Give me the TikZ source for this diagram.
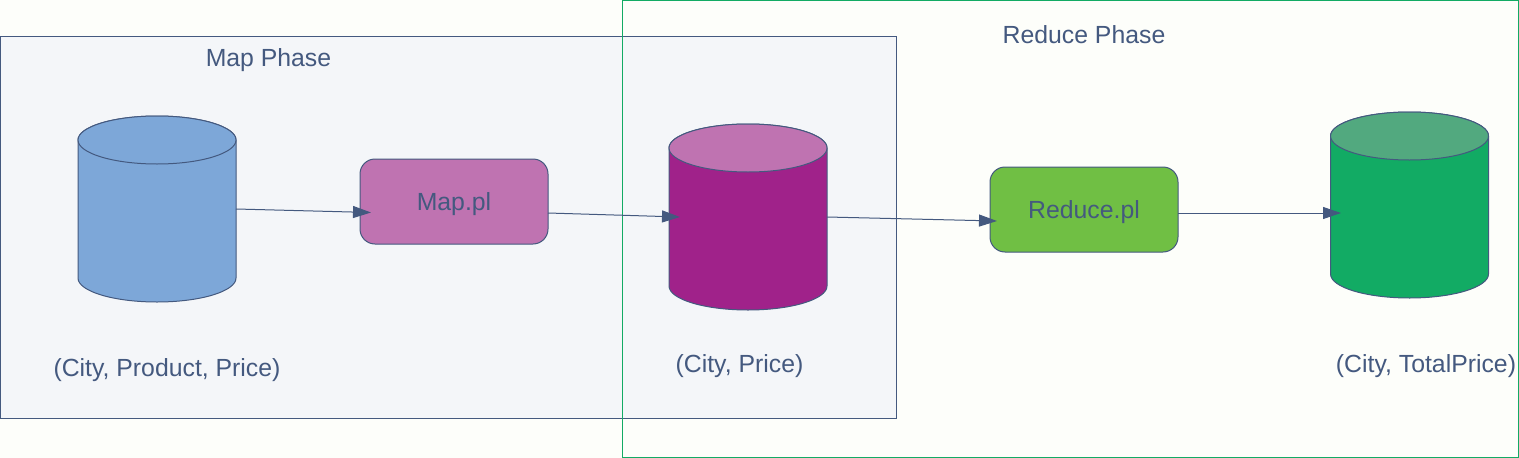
\documentclass[tikz,border=0pt]{standalone}
\usepackage{fontspec}
\setmainfont{Liberation Sans}
\usetikzlibrary{arrows.meta}
\definecolor{inkblue}{HTML}{44597F}
\definecolor{pagewhite}{HTML}{FDFEFA}
\definecolor{mapbg}{HTML}{F4F6F9}
\definecolor{phasegreen}{HTML}{12AB64}
\definecolor{dbblue}{HTML}{7DA7D8}
\definecolor{dbpurple}{HTML}{A0228A}
\definecolor{lilac}{HTML}{BF73B1}
\definecolor{scriptgreen}{HTML}{70BF44}
\definecolor{dbmix}{HTML}{52A97F}
\tikzset{
  dbbox/.style={minimum width=158pt,minimum height=186pt,inner sep=0pt,outer sep=0pt},
  dbline/.style={draw=inkblue,line width=1pt},
  script/.style={draw=inkblue,line width=1pt,rounded corners=15pt,minimum width=188pt,minimum height=85pt,
    inner sep=0pt,outer sep=0pt,text=inkblue,text depth=0pt,font=\fontsize{24.8}{28}\selectfont},
  lbl/.style={text=inkblue,font=\fontsize{24.8}{28}\selectfont,inner sep=0pt},
  link/.style={draw=inkblue,line width=1pt,-{Triangle[length=18pt,width=12pt]}}
}
% name, x, y, body colour, top colour
\newcommand{\dbstore}[5]{
  \node[dbbox] (#1) at (#2,#3) {};
  \draw[dbline,fill=#4] ([yshift=-24pt]#1.north west) -- ([yshift=24pt]#1.south west)
    arc[start angle=180,end angle=360,x radius=79pt,y radius=24pt]
    -- ([yshift=-24pt]#1.north east)
    arc[start angle=0,end angle=180,x radius=79pt,y radius=24pt] -- cycle;
  \draw[dbline,fill=#5] ([yshift=-24pt]#1.north) ellipse [x radius=79pt,y radius=24pt];
}
\begin{document}
\begin{tikzpicture}[x=1pt,y=-1pt]
\useasboundingbox (0,0) rectangle (1519,458);
\fill[pagewhite] (0,0) rectangle (1519,458);

% phases
\draw[inkblue,fill=mapbg,line width=1pt] (0.5,36) rectangle (896,418);
\draw[phasegreen,line width=1pt] (622,0.5) rectangle (1518.5,457.5);
\node[lbl] (mapphase) at (268.5,60) {Map Phase};
\node[lbl] (reducephase) at (1084,35) {Reduce Phase};

% stores
\dbstore{input}{157}{209}{dbblue}{dbblue}
\dbstore{mid}{748}{217}{dbpurple}{lilac}
\dbstore{output}{1409.5}{205}{phasegreen}{dbmix}

% scripts
\node[script,fill=lilac] (mapper) at (454,201.5) {Map.pl};
\node[script,fill=scriptgreen] (reducer) at (1084,209.5) {Reduce.pl};

\node[lbl] (inputlbl) at (167,370) {(City, Product, Price)};
\node[lbl] (midlbl) at (739.5,366) {(City, Price)};
\node[lbl] (outputlbl) at (1426,366) {(City, TotalPrice)};

\draw[link] (input.east) -- ([xshift=11pt,yshift=-11pt]mapper.west);
\draw[link] ([yshift=-11.5pt]mapper.east) -- ([xshift=11pt]mid.west);
\draw[link] (mid.east) -- ([xshift=7pt,yshift=-11.5pt]reducer.west);
\draw[link] ([yshift=-3.5pt]reducer.east) -- ([xshift=10.5pt,yshift=-8pt]output.west);
\end{tikzpicture}
\end{document}
